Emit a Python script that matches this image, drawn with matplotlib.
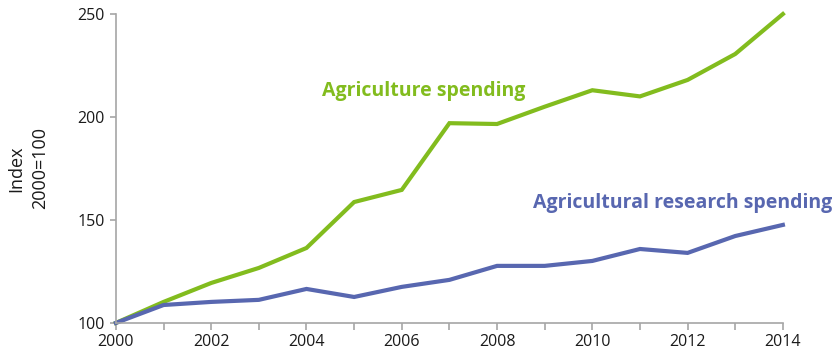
import matplotlib
matplotlib.use("Agg")
import matplotlib.pyplot as plt

plt.rcParams["font.family"] = ["Open Sans", "DejaVu Sans"]

years = list(range(2000, 2015))
agriculture = [100, 110.2, 119.4, 126.7, 136.4, 158.7, 164.6, 197.0, 196.6,
               205.0, 213.0, 210.0, 218.0, 230.6, 250.0]
research = [100, 108.7, 110.2, 111.2, 116.5, 112.6, 117.5, 120.9, 127.7,
            127.7, 130.1, 135.9, 134.0, 142.2, 147.6]
tick_years = list(range(2000, 2015, 2))
y_ticks = [100, 150, 200, 250]
ylabel_lines = ["Index", "2000=100"]

GREEN = "#82bc1e"
BLUE = "#5867b0"

fig = plt.figure(figsize=(8.4, 3.6), dpi=100)
ax = fig.add_axes([0.138, 0.103, 0.794, 0.858])

ax.plot(years, agriculture, color=GREEN, lw=3, solid_joinstyle="miter", clip_on=False)
ax.plot(years, research, color=BLUE, lw=3, solid_joinstyle="miter", clip_on=False)

ax.set_xlim(2000, 2014)
ax.set_ylim(100, 250)
ax.set_xticks(tick_years)
ax.set_xticks(years, minor=True)
ax.set_yticks(y_ticks)

for side in ("top", "right"):
    ax.spines[side].set_visible(False)
for side in ("left", "bottom"):
    ax.spines[side].set_color("#a6a6a6")
    ax.spines[side].set_linewidth(1.2)

ax.tick_params(axis="x", which="both", direction="out", length=5, color="#a6a6a6",
               width=1.2, labelsize=11.5, pad=3)
ax.tick_params(axis="y", direction="out", length=4, color="#a6a6a6", width=1.2,
               labelsize=11.5, pad=4)
for lbl in ax.get_xticklabels() + ax.get_yticklabels():
    lbl.set_color("#1a1a1a")

# two-line axis title, each line centred on the axes' vertical middle
for xpos, line in zip([0.019, 0.048], ylabel_lines):
    fig.text(xpos, 0.532, line, rotation=90, fontsize=13, color="#1a1a1a",
             ha="center", va="center")

ax.text(2006.47, 212.6, "Agriculture spending", color=GREEN, fontsize=14,
        fontweight="bold", ha="center", va="center")
ax.text(2008.75, 158.3, "Agricultural research spending", color=BLUE, fontsize=14,
        fontweight="bold", ha="left", va="center", clip_on=False)

fig.savefig("out.png", dpi=100)
